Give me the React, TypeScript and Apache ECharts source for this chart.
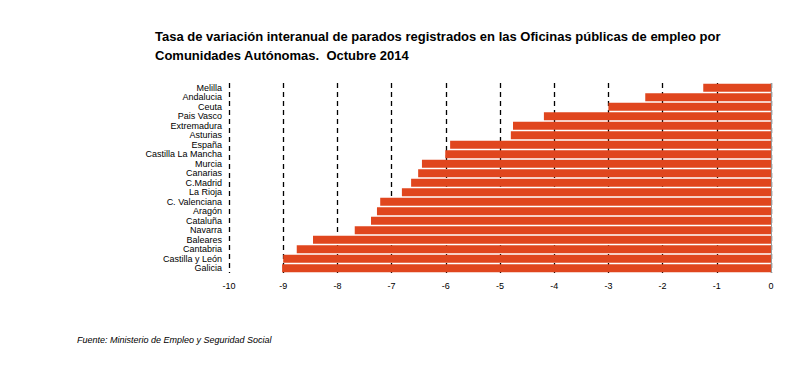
import React, { useEffect, useRef } from "react";
import * as echarts from "echarts";

const categories = [
  "Melilla", "Andalucia", "Ceuta", "Pais Vasco", "Extremadura", "Asturias", "España",
  "Castilla La Mancha", "Murcia", "Canarias", "C.Madrid", "La Rioja", "C. Valenciana",
  "Aragón", "Cataluña", "Navarra", "Baleares", "Cantabria", "Castilla y León", "Galicia",
];
const values = [
  -1.25, -2.32, -3.0, -4.19, -4.76, -4.8, -5.92,
  -6.01, -6.44, -6.51, -6.64, -6.81, -7.21,
  -7.27, -7.38, -7.68, -8.45, -8.75, -9.0, -9.02,
];
const xTicks = [-10, -9, -8, -7, -6, -5, -4, -3, -2, -1, 0];
const titleText =
  "Tasa de variación interanual de parados registrados en las Oficinas públicas de empleo por\nComunidades Autónomas.  Octubre 2014";
const sourceText = "Fuente: Ministerio de Empleo y Seguridad Social";

export default function App() {
  const ref = useRef<HTMLDivElement>(null);
  useEffect(() => {
    if (!ref.current) return;
    const chart = echarts.init(ref.current, null, { renderer: "svg" });
    chart.setOption({
      animation: false,
      backgroundColor: "#fff",
      title: {
        text: titleText,
        left: 142,
        top: 14,
        textStyle: {
          fontFamily: "Liberation Sans, Arial, sans-serif",
          fontSize: 13,
          fontWeight: "bold",
          color: "#000",
          lineHeight: 19,
        },
      },
      graphic: [
        {
          type: "text",
          left: 69,
          top: 327,
          style: {
            text: sourceText,
            font: "italic 9px 'Liberation Sans', Arial, sans-serif",
            fill: "#000",
          },
        },
      ],
      grid: { left: 221, right: 30, top: 75, bottom: 98, containLabel: false },
      xAxis: {
        type: "value",
        min: xTicks[0],
        max: xTicks[xTicks.length - 1],
        interval: 1,
        axisLine: { show: false },
        axisTick: { show: false },
        axisLabel: {
          margin: 8,
          fontSize: 9,
          color: "#000",
          fontFamily: "Liberation Sans, Arial, sans-serif",
          formatter: (v: number) => (v === 0 ? "0" : String(v)),
        },
        splitLine: {
          show: true,
          lineStyle: { color: "#000", type: [5, 4], width: 1.3 },
        },
      },
      yAxis: {
        type: "category",
        data: categories,
        inverse: true,
        axisLine: { show: false, onZero: false },
        axisTick: { show: false },
        axisLabel: {
          interval: 0,
          margin: 7,
          fontSize: 9,
          lineHeight: 9,
          color: "#000",
          fontFamily: "Liberation Sans, Arial, sans-serif",
        },
        splitLine: { show: false },
      },
      series: [
        {
          type: "bar",
          data: values,
          barCategoryGap: "16%",
          itemStyle: { color: "#E0461E" },
          markLine: {
            silent: true,
            symbol: "none",
            label: { show: false },
            lineStyle: { color: "#999", type: "solid", width: 1 },
            data: [{ xAxis: 0 }],
          },
        },
      ],
    });
    return () => chart.dispose();
  }, []);
  return <div ref={ref} style={{ width: 793, height: 363 }} />;
}
